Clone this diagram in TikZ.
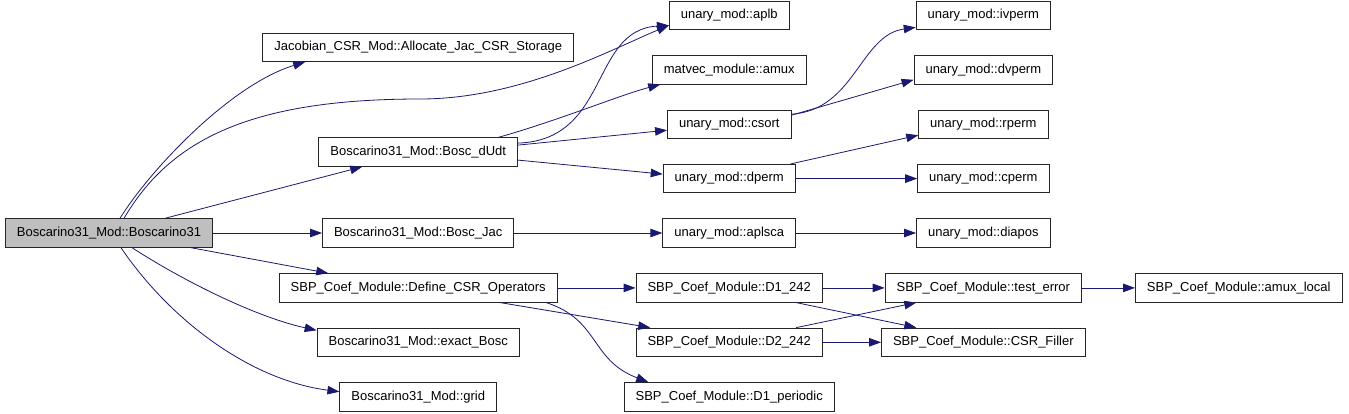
\documentclass[tikz,border=0pt]{standalone}
\usepackage{fontspec}
\setmainfont{Liberation Sans}
\usepackage{tikz}
\usetikzlibrary{positioning,arrows.meta}
\definecolor{edgeblue}{RGB}{25,25,112}
\definecolor{nodegray}{RGB}{191,191,191}

\begin{document}
\begin{tikzpicture}[
  x=1pt, y=-1pt,
  node distance=25pt and 110pt,
  fn/.style={rectangle, draw=black!85, fill=white, line width=0.9pt, minimum height=28.5pt,
             inner xsep=11.5pt, inner ysep=2pt, font=\fontsize{13}{15}\selectfont},
  call/.style={-{Triangle[length=12pt,width=8.5pt]}, line width=0.8pt, color=edgeblue}
]
\useasboundingbox (0,0) rectangle (1349,413);

\node[fn, fill=nodegray] (main) at (109,233) {Boscarino31\_Mod::Boscarino31};

% callees of Boscarino31
\node[fn, right=109pt of main] (bosc_jac) {Boscarino31\_Mod::Bosc\_Jac};
\node[fn, above=51.5pt of bosc_jac] (bosc_dudt) {Boscarino31\_Mod::Bosc\_dUdt};
\node[fn, above=75.5pt of bosc_dudt] (alloc) {Jacobian\_CSR\_Mod::Allocate\_Jac\_CSR\_Storage};
\node[fn, below=25.5pt of bosc_jac] (def_csr) {SBP\_Coef\_Module::Define\_CSR\_Operators};
\node[fn, below=of def_csr] (exact) {Boscarino31\_Mod::exact\_Bosc};
\node[fn, below=of exact] (grid) {Boscarino31\_Mod::grid};

\node[fn, right=148pt of bosc_jac] (aplsca) {unary\_mod::aplsca};
\node[fn, above=of aplsca] (dperm) {unary\_mod::dperm};
\node[fn, above=of dperm] (csort) {unary\_mod::csort};
\node[fn, above=of csort] (amux) {matvec\_module::amux};
\node[fn, above=of amux] (aplb) {unary\_mod::aplb};
\node[fn, below=25.5pt of aplsca] (d1_242) {SBP\_Coef\_Module::D1\_242};
\node[fn, below=of d1_242] (d2_242) {SBP\_Coef\_Module::D2\_242};
\node[fn, below=of d2_242] (d1_per) {SBP\_Coef\_Module::D1\_periodic};

\node[fn, right=120pt of aplsca] (diapos) {unary\_mod::diapos};
\node[fn, above=of diapos] (cperm) {unary\_mod::cperm};
\node[fn, above=of cperm] (rperm) {unary\_mod::rperm};
\node[fn, above=of rperm] (dvperm) {unary\_mod::dvperm};
\node[fn, above=of dvperm] (ivperm) {unary\_mod::ivperm};
\node[fn, below=25.5pt of diapos] (test_err) {SBP\_Coef\_Module::test\_error};
\node[fn, below=of test_err] (csr_fill) {SBP\_Coef\_Module::CSR\_Filler};
\node[fn, right=53pt of test_err] (amux_loc) {SBP\_Coef\_Module::amux\_local};

\draw[call] ([xshift=11pt]main.north) .. controls (150,170) and (230,85) .. ([xshift=-113pt]alloc.south);
\draw[call] ([xshift=15pt]main.north) .. controls (170,140) and (250,99) .. (420,99)
  .. controls (520,99) and (610,50) .. ([yshift=-10pt]aplb.west);
\draw[call] ([xshift=56pt]main.north) -- ([xshift=-56pt]bosc_dudt.south);
\draw[call] (main) -- (bosc_jac);
\draw[call] ([xshift=82pt]main.south) -- ([xshift=-90pt]def_csr.north);
\draw[call] ([xshift=23pt]main.south) .. controls (190,285) and (260,318) .. ([yshift=12pt]exact.west);
\draw[call] ([xshift=12pt]main.south) .. controls (170,320) and (250,380) .. ([yshift=5pt]grid.west);

\draw[call] ([yshift=9pt]bosc_dudt.east) .. controls (610,140) and (590,30) .. ([yshift=-10pt]aplb.west);
\draw[call] ([xshift=80pt]bosc_dudt.north) .. controls (560,120) and (620,95) .. ([xshift=-69pt]amux.south);
\draw[call] ([yshift=7pt]bosc_dudt.east) -- ([yshift=-6pt]csort.west);
\draw[call] ([yshift=-8pt]bosc_dudt.east) -- ([yshift=4.5pt]dperm.west);

\draw[call] ([yshift=10pt]csort.east) .. controls (855,110) and (860,35) .. ([yshift=-12pt]ivperm.west);
\draw[call] ([yshift=9pt]csort.east) -- ([yshift=-10pt]dvperm.west);
\draw[call] ([xshift=-5pt]dperm.north east) -- ([yshift=-11pt]rperm.west);
\draw[call] (dperm) -- (cperm);
\draw[call] (bosc_jac) -- (aplsca);
\draw[call] (aplsca) -- (diapos);

\draw[call] (def_csr) -- (d1_242);
\draw[call] ([xshift=82pt]def_csr.south) -- ([xshift=-79pt]d2_242.north);
\draw[call] ([xshift=128pt]def_csr.south) .. controls (600,320) and (590,360) .. ([xshift=-81pt]d1_per.north);
\draw[call] (d1_242) -- (test_err);
\draw[call] ([xshift=67pt]d1_242.south) -- ([xshift=-67pt]csr_fill.north);
\draw[call] ([xshift=67pt]d2_242.north) -- ([xshift=-67pt]test_err.south);
\draw[call] (d2_242) -- (csr_fill);
\draw[call] (test_err) -- (amux_loc);
\end{tikzpicture}
\end{document}
